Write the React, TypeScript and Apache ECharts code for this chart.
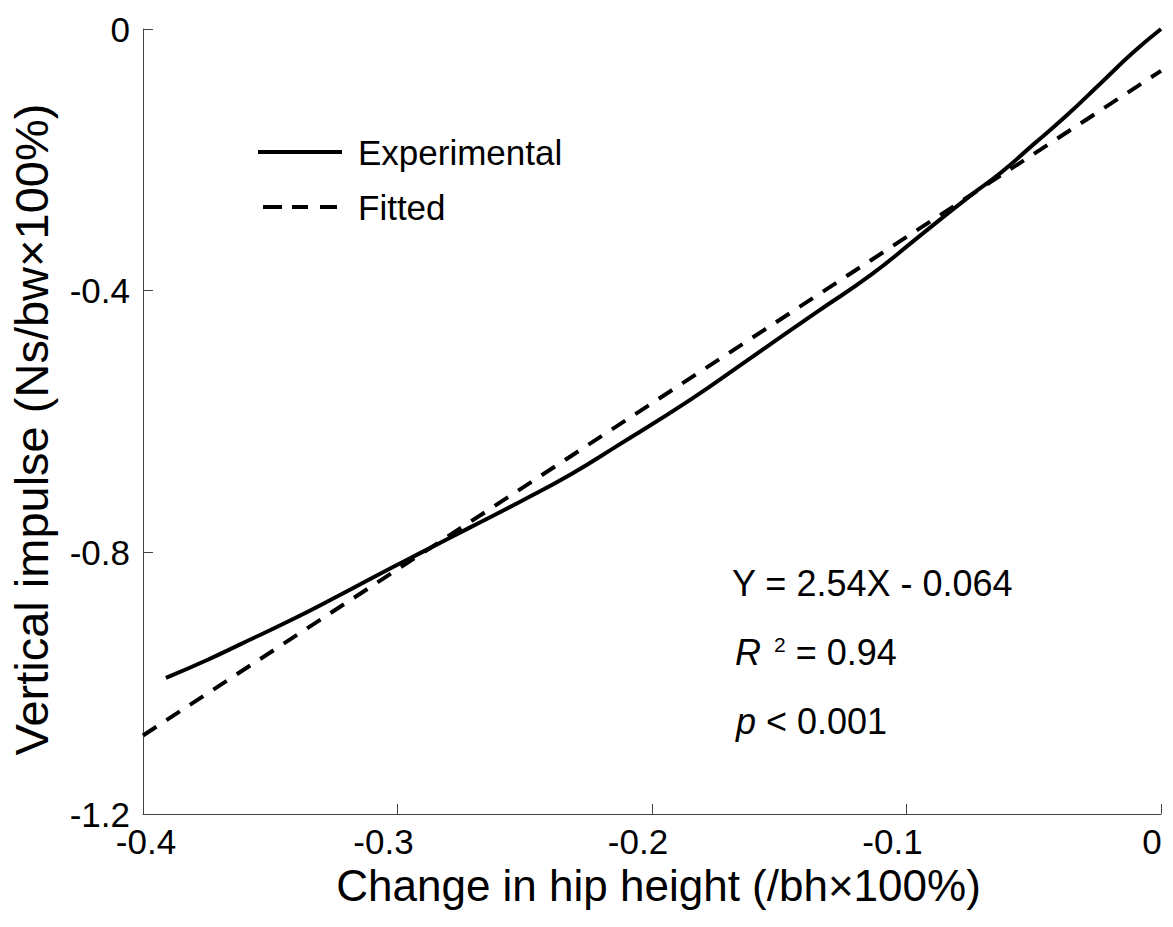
import React, { useEffect, useRef } from "react";
import * as echarts from "echarts";

const FONT = "'Liberation Sans', Arial, Helvetica, sans-serif";

// Experimental curve
const expX = [-0.391, -0.375, -0.362, -0.341, -0.323, -0.307, -0.289, -0.272, -0.252, -0.232, -0.214, -0.185, -0.162, -0.135, -0.114, -0.095, -0.075, -0.063, -0.05, -0.037, -0.024, -0.011, 0];
const expY = [-0.992, -0.965, -0.941, -0.902, -0.866, -0.833, -0.797, -0.763, -0.723, -0.681, -0.638, -0.567, -0.505, -0.432, -0.376, -0.317, -0.255, -0.22, -0.176, -0.132, -0.084, -0.036, 0];

// Fitted line endpoints
const fitX = [-0.4, 0];
const fitY = [-1.08, -0.064];

const xTicks = ["-0.4", "-0.3", "-0.2", "-0.1", "0"];
const seriesNames = ["Experimental", "Fitted"];
const equationText = "Y = 2.54X - 0.064";
const r2Value = "0.94";
const pText = "< 0.001";

export default function App() {
  const ref = useRef<HTMLDivElement>(null);

  useEffect(() => {
    if (!ref.current) return;
    const chart = echarts.init(ref.current, null, { renderer: "svg" });

    const fmt = (v: number) => {
      const s = Number(v.toFixed(1));
      return s === 0 ? "0" : String(s);
    };

    const option: any = {
      animation: false,
      backgroundColor: "#fff",
      textStyle: { fontFamily: FONT, color: "#000" },
      grid: { left: 143, right: 12, top: 29, bottom: 113, containLabel: false, outerBoundsMode: "none" },
      legend: {
        orient: "vertical",
        left: 253,
        top: 127,
        itemWidth: 84,
        itemHeight: 4,
        itemGap: 15,
        selectedMode: false,
        textStyle: { fontFamily: FONT, fontSize: 35, color: "#000", lineHeight: 40, padding: [0, 0, 0, 11] },
        data: [
          { name: seriesNames[0], icon: "rect" },
          { name: seriesNames[1], icon: "path://M0,0H19V4H0Z M29,0H45V4H29Z M57,0H74V4H57Z" },
        ],
      },
      xAxis: {
        type: "value",
        min: -0.4,
        max: 0,
        interval: 0.1,
        name: "Change in hip height (/bh×100%)",
        nameLocation: "middle",
        nameGap: 40,
        nameTextStyle: { fontFamily: FONT, fontSize: 44, color: "#000", padding: [0, 0, 0, 13] },
        axisLine: { show: true, onZero: false, lineStyle: { color: "#444", width: 1 } },
        axisTick: { show: true, inside: true, length: 10, lineStyle: { color: "#444", width: 1 } },
        splitLine: { show: false },
        axisLabel: {
          margin: 10,
          fontFamily: FONT,
          fontSize: 35,
          color: "#000",
          formatter: (v: number) => {
            const s = fmt(v);
            const i = xTicks.indexOf(s);
            if (i === 0) return "{a|" + s + "}";
            if (i === xTicks.length - 1) return "{c|" + s + "}";
            return "{b|" + s + "}";
          },
          rich: {
            a: { fontFamily: FONT, fontSize: 35, color: "#000", padding: [0, 0, 0, 6] },
            b: { fontFamily: FONT, fontSize: 35, color: "#000", padding: [0, 28, 0, 0] },
            c: { fontFamily: FONT, fontSize: 35, color: "#000", padding: [0, 18, 0, 0] },
          },
        },
      },
      yAxis: {
        type: "value",
        min: -1.2,
        max: 0,
        interval: 0.4,
        name: "Vertical impulse (Ns/bw×100%)",
        nameLocation: "middle",
        nameRotate: 90,
        nameGap: 88,
        nameTextStyle: { fontFamily: FONT, fontSize: 47, color: "#000", padding: [0, 16, 0, 0] },
        axisLine: { show: true, onZero: false, lineStyle: { color: "#444", width: 1 } },
        axisTick: { show: true, inside: true, length: 10, lineStyle: { color: "#444", width: 1 } },
        splitLine: { show: false },
        axisLabel: {
          margin: 13,
          fontFamily: FONT,
          fontSize: 35,
          color: "#000",
          formatter: (v: number) => fmt(v),
        },
      },
      series: [
        {
          name: seriesNames[0],
          type: "line",
          color: "#000",
          symbol: "none",
          smooth: 0.5,
          data: expX.map((x, i) => [x, expY[i]]),
          lineStyle: { color: "#000", width: 4, type: "solid" },
          z: 3,
        },
        {
          name: seriesNames[1],
          type: "line",
          color: "#000",
          symbol: "none",
          data: fitX.map((x, i) => [x, fitY[i]]),
          lineStyle: { color: "#000", width: 4, type: [16, 12], cap: "butt" },
          z: 2,
        },
      ],
      graphic: [
        {
          type: "text",
          x: 732,
          y: 583,
          style: { text: equationText, fontFamily: FONT, fontSize: 36, fill: "#000", verticalAlign: "middle" },
        },
        {
          type: "text",
          x: 735,
          y: 652,
          style: {
            text: "{i|R}{s|2}{n| = " + r2Value + "}",
            fontFamily: FONT,
            fontSize: 36,
            fill: "#000",
            verticalAlign: "middle",
            rich: {
              i: { fontFamily: FONT, fontSize: 36, fontStyle: "italic", fill: "#000", lineHeight: 36 },
              s: { fontFamily: FONT, fontSize: 21, fill: "#000", verticalAlign: "top", padding: [0, 0, 0, 13], lineHeight: 21 },
              n: { fontFamily: FONT, fontSize: 36, fill: "#000", lineHeight: 36 },
            },
          },
        },
        {
          type: "text",
          x: 736,
          y: 721,
          style: {
            text: "{i|p}{n| " + pText + "}",
            fontFamily: FONT,
            fontSize: 36,
            fill: "#000",
            verticalAlign: "middle",
            rich: {
              i: { fontFamily: FONT, fontSize: 36, fontStyle: "italic", fill: "#000" },
              n: { fontFamily: FONT, fontSize: 36, fill: "#000" },
            },
          },
        },
      ],
    };

    chart.setOption(option);
    return () => chart.dispose();
  }, []);

  return (
    <div
      ref={ref}
      style={{ position: "absolute", left: 0, top: 0, width: 1173, height: 927, background: "#fff" }}
    />
  );
}
